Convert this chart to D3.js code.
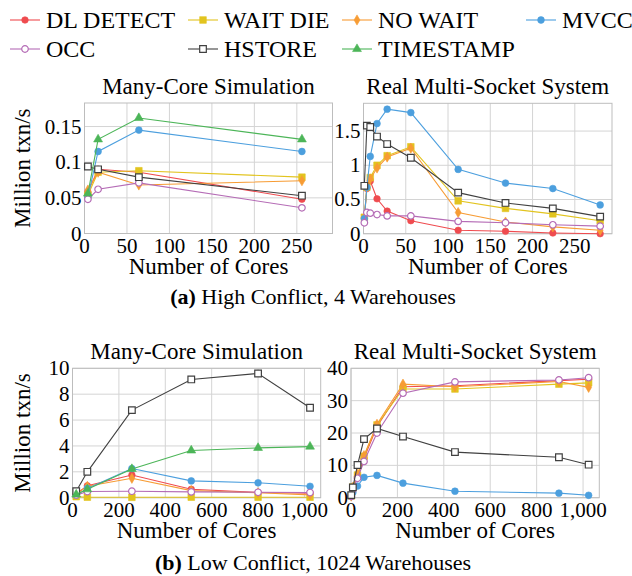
<!DOCTYPE html>
<meta charset="utf-8">
<body style="margin:0">
<script src="https://d3js.org/d3.v7.min.js"></script>
<script>

const width = 632,
    height = 576

const schemes = ['DL DETECT', 'WAIT DIE', 'NO WAIT', 'MVCC', 'OCC', 'HSTORE', 'TIMESTAMP']
const colors = ['#ef4b4f', '#e2c41f', '#f79c34', '#4c9fde', '#b56cb6', '#404040', '#4cb558']

// (a) high conflict, many-core simulation
const highSimCores = [4, 16, 64, 256]
const highSimTput = [
    [0.058, 0.090, 0.086, 0.048],
    [0.054, 0.086, 0.088, 0.079],
    [0.061, 0.086, 0.068, 0.074],
    [0.051, 0.115, 0.145, 0.115],
    [0.048, 0.062, 0.071, 0.036],
    [0.094, 0.090, 0.079, 0.053],
    [0.056, 0.132, 0.162, 0.132]
]

// (a) high conflict, real multi-socket
const highRealCores = [1, 4, 8, 16, 28, 56, 112, 168, 224, 280]
const highRealTput = [
    [0.23, 0.66, 0.77, 0.51, 0.33, 0.19, 0.05, 0.035, 0.01, 0.0],
    [0.24, 0.68, 0.82, 1.0, 1.14, 1.27, 0.48, 0.37, 0.29, 0.19],
    [0.24, 0.68, 0.80, 0.96, 1.12, 1.25, 0.31, 0.17, 0.10, 0.05],
    [0.22, 0.68, 1.13, 1.61, 1.82, 1.77, 0.94, 0.74, 0.66, 0.42],
    [0.16, 0.31, 0.30, 0.28, 0.26, 0.26, 0.18, 0.16, 0.13, 0.11],
    [0.70, 1.58, 1.56, 1.42, 1.31, 1.11, 0.60, 0.45, 0.37, 0.25],
    null
]

// (b) low conflict, many-core simulation
const lowSimCores = [16, 64, 256, 512, 800, 1024]
const lowSimTput = [
    [0.30, 0.92, 1.75, 0.65, 0.40, 0.35],
    [0.08, 0.04, 0.03, 0.04, 0.04, 0.04],
    [0.30, 0.88, 1.50, 0.55, 0.38, 0.22],
    [0.20, 0.72, 2.25, 1.30, 1.15, 0.88],
    [0.20, 0.48, 0.50, 0.45, 0.42, 0.40],
    [0.50, 2.00, 6.77, 9.14, 9.60, 6.95],
    [0.25, 0.65, 2.22, 3.65, 3.85, 3.95]
]

// (b) low conflict, real multi-socket
const lowRealCores = [1, 8, 28, 56, 112, 224, 448, 896, 1024]
const lowRealTput = [
    [0.5, 3.0, 6.6, 12.2, 22.0, 34.3, 34.6, 36.2, 36.6],
    [0.5, 3.3, 7.0, 12.8, 22.5, 33.6, 33.6, 35.1, 35.5],
    [0.5, 3.2, 7.2, 13.0, 22.7, 35.1, 34.3, 35.9, 34.1],
    [0.4, 1.6, 3.6, 6.3, 6.9, 4.5, 2.0, 1.4, 0.75],
    [0.4, 2.5, 6.0, 11.2, 20.0, 32.3, 35.8, 36.4, 37.1],
    [0.8, 3.2, 10.1, 18.1, 21.4, 18.9, 14.1, 12.5, 10.2],
    null
]

const svg = d3.select('body')
    .append('svg')
    .attr('width', width)
    .attr('height', height)

const plots = svg.append('g')

function marker(i) {
    var types = [d3.symbolCircle, d3.symbolSquare, d3.symbolDiamond, d3.symbolCircle,
        d3.symbolCircle, d3.symbolSquare, d3.symbolTriangle]
    var sizes = [34, 44, 30, 36, 34, 44, 34]
    return d3.symbol().type(types[i]).size(sizes[i])()
}

function openMarker(i) { return i === 4 || i === 5 }

function drawMarker(g, i, x, y) {
    g.append('path')
        .attr('d', marker(i))
        .attr('transform', 'translate(' + x + ',' + y + ')')
        .style('fill', openMarker(i) ? '#fff' : colors[i])
        .style('stroke', colors[i])
        .style('stroke-width', openMarker(i) ? 1.2 : 0.6)
}

// text built the same way as the diagnostic page that rendered serif
function label(str, size, x, y, family) {
    return svg.append('text')
        .attr('x', x)
        .attr('y', y)
        .style('font-family', family)
        .style('font-size', size + 'px')
        .text(str)
}

function panel(opts) {
    var x = d3.scaleLinear().domain(opts.xDomain).range([opts.left, opts.right])
    var y = d3.scaleLinear().domain(opts.yDomain).range([opts.bottom, opts.top])
    var g = plots.append('g')

    g.selectAll('.vgrid').data(opts.xTicks).enter().append('line')
        .attr('x1', x).attr('x2', x)
        .attr('y1', opts.top).attr('y2', opts.bottom)
        .style('stroke', '#d4d4d4')
    g.selectAll('.hgrid').data(opts.yTicks).enter().append('line')
        .attr('x1', opts.left).attr('x2', opts.right)
        .attr('y1', y).attr('y2', y)
        .style('stroke', '#d4d4d4')

    g.append('rect')
        .attr('x', opts.left).attr('y', opts.top)
        .attr('width', opts.right - opts.left).attr('height', opts.bottom - opts.top)
        .style('fill', 'none').style('stroke', '#bdbdbd')

    opts.xTicks.forEach(function (v) {
        label(opts.xFormat(v), 21, x(v), opts.bottom + 19, 'Tinos')
            .attr('text-anchor', 'middle')
    })
    opts.yTicks.forEach(function (v) {
        label(opts.yFormat(v), 21, opts.left - 3, y(v) + 7, 'Tinos')
            .attr('text-anchor', 'end')
    })

    label(opts.title, 23, (opts.left + opts.right) / 2, opts.top - 9, '"Times New Roman"')
        .attr('text-anchor', 'middle')
    label('Number of Cores', 23, (opts.left + opts.right) / 2, opts.bottom + 40, 'serif')
        .attr('text-anchor', 'middle')

    if (opts.yLabel) {
        label('Million txn/s', 23, 0, 0, '"Liberation Serif"')
            .attr('text-anchor', 'middle')
            .attr('transform', 'translate(30,' + (opts.top + opts.bottom) / 2 + ') rotate(-90)')
    }

    var line = d3.line()
        .x(function (d) { return x(d[0]) })
        .y(function (d) { return y(d[1]) })

    opts.tput.forEach(function (vals, i) {
        if (!vals) return
        var pts = opts.cores.map(function (c, j) { return [c, vals[j]] })
        g.append('path')
            .attr('d', line(pts))
            .style('fill', 'none')
            .style('stroke', colors[i])
            .style('stroke-width', 1.1)
        pts.forEach(function (p) { drawMarker(g, i, x(p[0]), y(p[1])) })
    })
}

var trim = function (d) { return String(+d.toFixed(2)) }

panel({
    left: 84.5, right: 332.5, top: 103, bottom: 233.5,
    xDomain: [0, 292], yDomain: [0, 0.183],
    xTicks: [0, 50, 100, 150, 200, 250], yTicks: [0, 0.05, 0.1, 0.15],
    xFormat: d3.format('d'), yFormat: trim,
    title: 'Many-Core Simulation', yLabel: true,
    cores: highSimCores, tput: highSimTput
})

panel({
    left: 363.5, right: 612, top: 103.3, bottom: 233.7,
    xDomain: [0, 294], yDomain: [0, 1.906],
    xTicks: [0, 50, 100, 150, 200, 250], yTicks: [0, 0.5, 1, 1.5],
    xFormat: d3.format('d'), yFormat: trim,
    title: 'Real Multi-Socket System', yLabel: false,
    cores: highRealCores, tput: highRealTput
})

panel({
    left: 72.5, right: 320.7, top: 368.3, bottom: 497.7,
    xDomain: [0, 1070], yDomain: [0, 10],
    xTicks: [0, 200, 400, 600, 800, 1000], yTicks: [0, 2, 4, 6, 8, 10],
    xFormat: d3.format(','), yFormat: d3.format('d'),
    title: 'Many-Core Simulation', yLabel: true,
    cores: lowSimCores, tput: lowSimTput
})

panel({
    left: 351, right: 599.3, top: 368.3, bottom: 497.7,
    xDomain: [0, 1070], yDomain: [0, 40],
    xTicks: [0, 200, 400, 600, 800, 1000], yTicks: [0, 10, 20, 30, 40],
    xFormat: d3.format(','), yFormat: d3.format('d'),
    title: 'Real Multi-Socket System', yLabel: false,
    cores: lowRealCores, tput: lowRealTput
})

// legend
var legendPos = [[10, 20], [188, 20], [342, 20], [526, 20], [10, 49], [188, 49], [342, 49]]
schemes.forEach(function (name, i) {
    var lx = legendPos[i][0], ly = legendPos[i][1]
    plots.append('line')
        .attr('x1', lx).attr('x2', lx + 30)
        .attr('y1', ly).attr('y2', ly)
        .style('stroke', colors[i]).style('stroke-width', 1.1)
    drawMarker(plots, i, lx + 15, ly)
    label(name, 24, lx + 36, ly + 8, '"Liberation Serif"')
})

// captions
function caption(tag, rest, yPos) {
    var t = svg.append('text')
        .style('font-family', '"Liberation Serif"')
        .style('font-size', '22px')
        .attr('x', width / 2 - 3)
        .attr('y', yPos)
        .attr('text-anchor', 'middle')
    t.append('tspan').style('font-weight', 'bold').text(tag)
    t.append('tspan').text(' ' + rest)
}
caption('(a)', 'High Conflict, 4 Warehouses', 304)
caption('(b)', 'Low Conflict, 1024 Warehouses', 570)

</script>
</body>
